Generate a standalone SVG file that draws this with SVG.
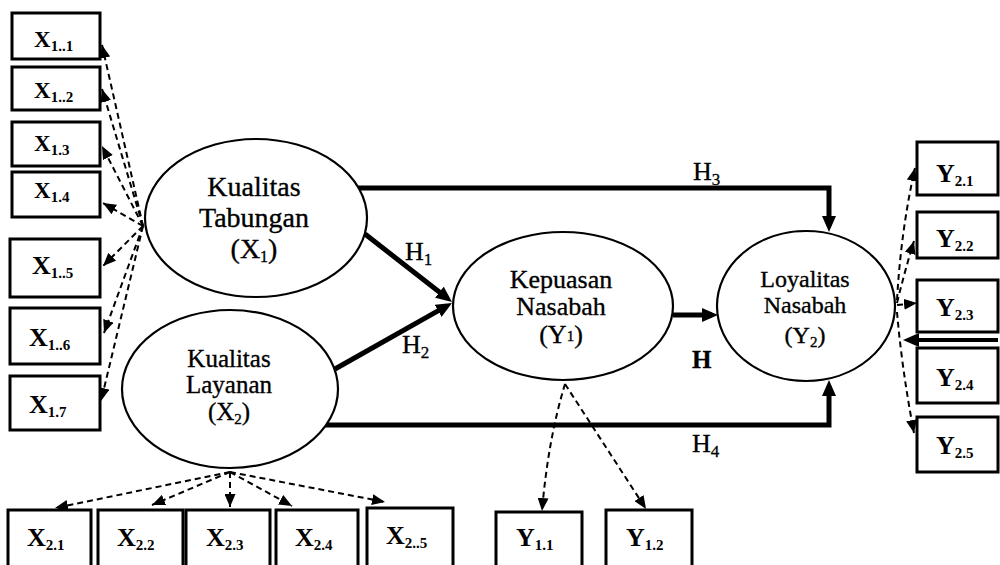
<svg xmlns="http://www.w3.org/2000/svg" width="1000" height="565" viewBox="0 0 1000 565">
  <style>
    .box { fill: #fff; stroke: #000; stroke-width: 3; }
    .lat { fill: #fff; stroke: #000; stroke-width: 2.2; }
    .lbl { font-family: "Liberation Serif", "Times New Roman", serif; fill: #000; }
    .bl { font-size: 26px; font-weight: bold; }
    .bs { font-size: 23px; font-weight: bold; }
    .sub { font-size: 15px; }
    .nl { font-size: 25px; text-anchor: middle; stroke: #000; stroke-width: 0.35; }
    .hl { font-size: 26px; stroke: #000; stroke-width: 0.3; }
    .path { fill: none; stroke: #000; stroke-width: 5; }
    .dash { fill: none; stroke: #000; stroke-width: 2; stroke-dasharray: 6 4; }
  </style>
  <defs>
    <marker id="big" viewBox="0 0 16 14" refX="10" refY="7" markerWidth="16" markerHeight="14" markerUnits="userSpaceOnUse" orient="auto">
      <path d="M0,0 L16,7 L0,14 z" fill="#000"/>
    </marker>
    <marker id="small" viewBox="0 0 13 11" refX="13" refY="5.5" markerWidth="13" markerHeight="11" markerUnits="userSpaceOnUse" orient="auto">
      <path d="M0,0 L13,5.5 L0,11 z" fill="#000"/>
    </marker>
  </defs>

  <!-- structural paths and indicator links -->
  <g id="connectors">
    <!-- H1, H2 -->
    <path class="path" d="M365,234 L447.3,298.3" marker-end="url(#big)"/>
    <path class="path" d="M335,369 L446.8,305.9" marker-end="url(#big)"/>
    <!-- H3, H4 -->
    <path class="path" d="M358,188 H829 V226" marker-end="url(#big)"/>
    <path class="path" d="M322,425 H829 V386" marker-end="url(#big)"/>
    <!-- Y1 to Y2 -->
    <path class="path" d="M673,315 H712" marker-end="url(#big)"/>
    <path class="path" style="stroke-width:4" d="M998,340 H909" marker-end="url(#big)"/>

    <!-- X1 indicators -->
    <path class="dash" d="M143,226 L102,45" marker-end="url(#small)"/>
    <path class="dash" d="M143,226 L102,89" marker-end="url(#small)"/>
    <path class="dash" d="M143,226 L102,146" marker-end="url(#small)"/>
    <path class="dash" d="M143,226 L103,203" marker-end="url(#small)"/>
    <path class="dash" d="M143,226 L103,266" marker-end="url(#small)"/>
    <path class="dash" d="M143,226 L104,333" marker-end="url(#small)"/>
    <path class="dash" d="M143,226 L101,401" marker-end="url(#small)"/>

    <!-- X2 indicators -->
    <path class="dash" d="M230,472 L55,508" marker-end="url(#small)"/>
    <path class="dash" d="M230,472 L152,505" marker-end="url(#small)"/>
    <path class="dash" d="M230,472 L230,507" marker-end="url(#small)"/>
    <path class="dash" d="M230,472 L292,506" marker-end="url(#small)"/>
    <path class="dash" d="M230,472 L385,502" marker-end="url(#small)"/>

    <!-- Y1 indicators -->
    <path class="dash" d="M565,384 Q548,440 542,511" marker-end="url(#small)"/>
    <path class="dash" d="M565,384 L646,509" marker-end="url(#small)"/>

    <!-- Y2 indicators -->
    <path class="dash" d="M897,300 Q901,230 915,168" marker-end="url(#small)"/>
    <path class="dash" d="M897,303 Q905,270 914,241" marker-end="url(#small)"/>
    <path class="dash" d="M897,305 L917,303" marker-end="url(#small)"/>
    <path class="dash" d="M897,312 Q902,370 914,433" marker-end="url(#small)"/>
  </g>

  <!-- latent variables -->
  <g id="X1">
    <ellipse class="lat" cx="256" cy="218" rx="111" ry="79"/>
    <g class="lbl nl" style="font-size:28px">
      <text x="254" y="196">Kualitas</text>
      <text x="254" y="227">Tabungan</text>
      <text x="254" y="258">(X<tspan class="sub" style="font-size:16px" dy="4">1</tspan><tspan dy="-4">)</tspan></text>
    </g>
  </g>
  <g id="X2">
    <ellipse class="lat" cx="230" cy="389" rx="108" ry="79"/>
    <g class="lbl nl">
      <text x="229" y="367">Kualitas</text>
      <text x="229" y="393">Layanan</text>
      <text x="229" y="420">(X<tspan class="sub" dy="4">2</tspan><tspan dy="-4">)</tspan></text>
    </g>
  </g>
  <g id="Y1">
    <ellipse class="lat" cx="563" cy="306" rx="110" ry="74"/>
    <g class="lbl nl" style="font-size:26px">
      <text x="561" y="288">Kepuasan</text>
      <text x="561" y="315">Nasabah</text>
      <text x="561" y="343">(Y<tspan class="sub" dy="-2">1</tspan><tspan dy="2">)</tspan></text>
    </g>
  </g>
  <g id="Y2">
    <ellipse class="lat" cx="806" cy="306" rx="89" ry="75"/>
    <g class="lbl nl" style="font-size:24px">
      <text x="805" y="287">Loyalitas</text>
      <text x="805" y="313">Nasabah</text>
      <text x="805" y="343">(Y<tspan class="sub" dy="4">2</tspan><tspan dy="-4">)</tspan></text>
    </g>
  </g>

  <!-- hypothesis labels -->
  <g id="hypotheses" class="lbl hl">
    <text x="405" y="260">H<tspan class="sub" style="font-size:17px" dy="5">1</tspan></text>
    <text x="402" y="353">H<tspan class="sub" style="font-size:17px" dy="5">2</tspan></text>
    <text x="693" y="180">H<tspan class="sub" style="font-size:17px" dy="5">3</tspan></text>
    <text x="692" y="368" style="font-weight:bold;font-size:25px">H</text>
    <text x="692" y="452">H<tspan class="sub" style="font-size:17px" dy="5">4</tspan></text>
  </g>

  <!-- indicators of X1 -->
  <g id="X1_1"><rect class="box" x="12" y="13" width="88" height="46"/><text class="lbl bs" x="34" y="47">X<tspan class="sub" dy="4">1..1</tspan></text></g>
  <g id="X1_2"><rect class="box" x="12" y="67" width="88" height="43"/><text class="lbl bs" x="34" y="98">X<tspan class="sub" dy="4">1..2</tspan></text></g>
  <g id="X1_3"><rect class="box" x="12" y="122" width="88" height="44"/><text class="lbl bs" x="34" y="151">X<tspan class="sub" dy="4">1.3</tspan></text></g>
  <g id="X1_4"><rect class="box" x="12" y="172" width="88" height="45"/><text class="lbl bs" x="34" y="198">X<tspan class="sub" dy="4">1.4</tspan></text></g>
  <g id="X1_5"><rect class="box" x="10" y="239" width="90" height="58"/><text class="lbl bl" x="32" y="274">X<tspan class="sub" dy="4">1..5</tspan></text></g>
  <g id="X1_6"><rect class="box" x="10" y="308" width="90" height="56"/><text class="lbl bl" x="29" y="346">X<tspan class="sub" dy="4">1..6</tspan></text></g>
  <g id="X1_7"><rect class="box" x="10" y="376" width="90" height="54"/><text class="lbl bl" x="29" y="413">X<tspan class="sub" dy="4">1.7</tspan></text></g>

  <!-- indicators of X2 -->
  <g id="X2_1"><rect class="box" x="8" y="510" width="83" height="70"/><text class="lbl bl" x="27" y="546">X<tspan class="sub" dy="4">2.1</tspan></text></g>
  <g id="X2_2"><rect class="box" x="98" y="510" width="85" height="70"/><text class="lbl bl" x="117" y="546">X<tspan class="sub" dy="4">2.2</tspan></text></g>
  <g id="X2_3"><rect class="box" x="186" y="510" width="84" height="70"/><text class="lbl bl" x="206" y="546">X<tspan class="sub" dy="4">2.3</tspan></text></g>
  <g id="X2_4"><rect class="box" x="276" y="510" width="82" height="70"/><text class="lbl bl" x="295" y="546">X<tspan class="sub" dy="4">2.4</tspan></text></g>
  <g id="X2_5"><rect class="box" x="367" y="508" width="86" height="72"/><text class="lbl bl" x="386" y="544">X<tspan class="sub" dy="4">2..5</tspan></text></g>

  <!-- indicators of Y1 -->
  <g id="Y1_1"><rect class="box" x="496" y="512" width="86" height="68"/><text class="lbl bl" x="516" y="546">Y<tspan class="sub" dy="4">1.1</tspan></text></g>
  <g id="Y1_2"><rect class="box" x="606" y="510" width="86" height="70"/><text class="lbl bl" x="626" y="546">Y<tspan class="sub" dy="4">1.2</tspan></text></g>

  <!-- indicators of Y2 -->
  <g id="Y2_1"><rect class="box" x="917" y="142" width="81" height="53"/><text class="lbl bl" x="936" y="182">Y<tspan class="sub" dy="4">2.1</tspan></text></g>
  <g id="Y2_2"><rect class="box" x="917" y="212" width="81" height="46"/><text class="lbl bl" x="936" y="247">Y<tspan class="sub" dy="4">2.2</tspan></text></g>
  <g id="Y2_3"><rect class="box" x="917" y="280" width="81" height="52"/><text class="lbl bl" x="936" y="316">Y<tspan class="sub" dy="4">2.3</tspan></text></g>
  <g id="Y2_4"><rect class="box" x="917" y="348" width="81" height="55"/><text class="lbl bl" x="936" y="386">Y<tspan class="sub" dy="4">2.4</tspan></text></g>
  <g id="Y2_5"><rect class="box" x="917" y="417" width="81" height="55"/><text class="lbl bl" x="936" y="454">Y<tspan class="sub" dy="4">2.5</tspan></text></g>
</svg>
